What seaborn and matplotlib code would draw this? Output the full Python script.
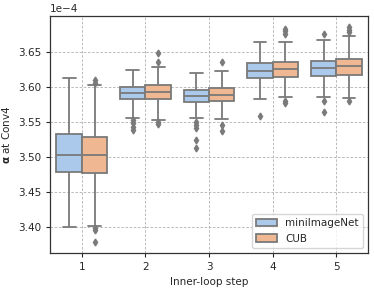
import numpy as np
import pandas as pd
import matplotlib
matplotlib.use("Agg")
import matplotlib.pyplot as plt
import seaborn as sns

# Values (in units of 1e-4)
steps = [1, 2, 3, 4, 5]
datasets = ["miniImageNet", "CUB"]

mini_q1 = [3.478, 3.582, 3.578, 3.613, 3.615]
mini_med = [3.503, 3.591, 3.587, 3.623, 3.627]
mini_q3 = [3.532, 3.600, 3.595, 3.634, 3.637]
mini_wlo = [3.400, 3.556, 3.555, 3.583, 3.586]
mini_whi = [3.612, 3.624, 3.620, 3.664, 3.667]
mini_out_lo = [[], [3.538, 3.543, 3.548, 3.552], [3.513, 3.524, 3.541, 3.545, 3.549], [3.558], [3.564, 3.579]]
mini_out_hi = [[], [], [], [], [3.675]]

cub_q1 = [3.477, 3.582, 3.580, 3.614, 3.617]
cub_med = [3.502, 3.593, 3.588, 3.625, 3.629]
cub_q3 = [3.528, 3.602, 3.598, 3.636, 3.640]
cub_wlo = [3.402, 3.553, 3.554, 3.585, 3.584]
cub_whi = [3.602, 3.628, 3.623, 3.664, 3.673]
cub_out_lo = [[3.379, 3.395, 3.398], [3.547, 3.549], [3.537, 3.546], [3.577, 3.580], [3.580]]
cub_out_hi = [[3.606, 3.609], [3.635, 3.648], [3.635], [3.675, 3.679, 3.683], [3.678, 3.681, 3.685]]

scale = 1e-4


def sample(lo, wlo, q1, med, q3, whi, hi):
    # sample whose quartiles / whiskers / fliers reproduce the read statistics
    return list(lo) + [wlo] + [q1] * 20 + [med] * 20 + [q3] * 20 + [whi] + list(hi)


rows = []
stats = {
    "miniImageNet": (mini_out_lo, mini_wlo, mini_q1, mini_med, mini_q3, mini_whi, mini_out_hi),
    "CUB": (cub_out_lo, cub_wlo, cub_q1, cub_med, cub_q3, cub_whi, cub_out_hi),
}
for ds in datasets:
    lo, wlo, q1, med, q3, whi, hi = stats[ds]
    for i, s in enumerate(steps):
        for v in sample(lo[i], wlo[i], q1[i], med[i], q3[i], whi[i], hi[i]):
            rows.append({"step": s, "dataset": ds, "alpha": v * scale})
df = pd.DataFrame(rows)

sns.set_style("ticks")
plt.rcParams["font.family"] = ["DejaVu Sans"]

fig = plt.figure(figsize=(3.74, 2.90), dpi=100)
ax = fig.add_axes([0.134, 0.128, 0.850, 0.817])

pal = ["#a1c9f4", "#ffb482"]
sns.boxplot(
    data=df, x="step", y="alpha", hue="dataset", hue_order=datasets,
    palette=pal, width=0.8, linewidth=1.3, linecolor="#7a7a7a", ax=ax,
    flierprops=dict(marker="d", markersize=3.5, markerfacecolor="#7a7a7a",
                    markeredgecolor="#7a7a7a"),
)

ax.set_ylim(3.363 * scale, 3.701 * scale)
ax.set_yticks(np.array([3.40, 3.45, 3.50, 3.55, 3.60, 3.65]) * scale)
ax.ticklabel_format(axis="y", style="sci", scilimits=(-4, -4), useOffset=False)
ax.yaxis.get_offset_text().set_fontsize(7.5)

ax.grid(True, linestyle=(0, (3, 2)), color="#b0b0b0", linewidth=0.6)
ax.set_axisbelow(True)
for sp in ax.spines.values():
    sp.set_visible(True)
    sp.set_color("#333333")
    sp.set_linewidth(0.9)

ax.tick_params(labelsize=7.5, length=3)
ax.set_xlabel("Inner-loop step", fontsize=7.5)
ax.set_ylabel(r"$\mathbf{\alpha}$ at Conv4", fontsize=7.5)

leg = ax.legend(loc="lower right", fontsize=7.5, frameon=True, title=None)

fig.savefig("out.png", dpi=100)
